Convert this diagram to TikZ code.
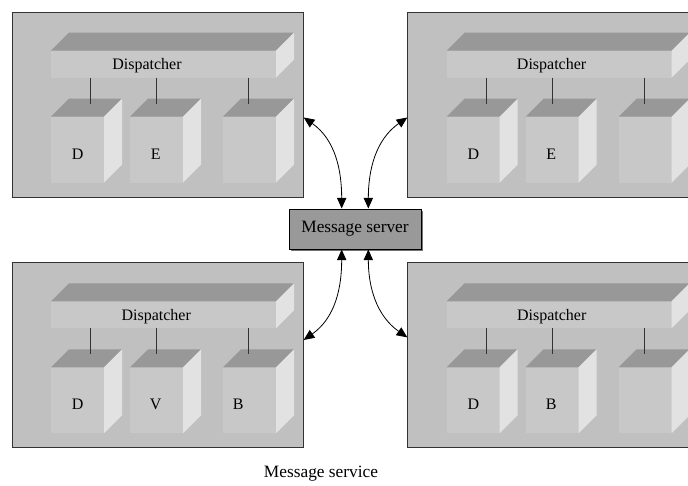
\documentclass[tikz,border=0pt]{standalone}
\usepackage{fontspec}
\setmainfont{Liberation Serif}
\usetikzlibrary{arrows.meta,shadows}

\definecolor{boxgray}{RGB}{192,192,192}
\definecolor{facegray}{RGB}{200,200,200}
\definecolor{topgray}{RGB}{152,152,152}
\definecolor{sidegray}{RGB}{226,226,226}
\definecolor{servergray}{RGB}{153,153,153}

% 3d block, front face from (#1,#2) to (#3,#4)
\newcommand{\slab}[4]{%
  \fill[facegray] (#1,#2) rectangle (#3,#4);
  \fill[topgray] (#1,#2) -- (#1+18,#2-18) -- (#3+18,#2-18) -- (#3,#2) -- cycle;
  \fill[sidegray] (#3,#2) -- (#3+18,#2-18) -- (#3+18,#4-18) -- (#3,#4) -- cycle;
}

% host: name, top-left corner, x of dispatcher text, three cube labels
\newcommand{\host}[6]{%
  \begin{scope}[shift={(#2)}]
    \node[host,anchor=north west] (#1) at (0,0) {};
    \slab{39.3}{39}{264.3}{66}
    \slab{39.3}{105}{92.3}{171}
    \slab{118.3}{105}{171.3}{171}
    \slab{211.3}{105}{264.3}{171}
    \foreach \x in {79,145,237}
      \draw[wire] (\x,66) -- (\x,92);
    \node[lbl] (#1-disp) at (#3,54) {Dispatcher};
    \node[lbl] (#1-c1) at (66,142.3) {#4};
    \node[lbl] (#1-c2) at (144,142.3) {#5};
    \if\relax\detokenize{#6}\relax\else
      \node[lbl] (#1-c3) at (226.6,142.3) {#6};
    \fi
  \end{scope}
}

\begin{document}
\begin{tikzpicture}[x=0.75pt,y=-0.75pt,
    >={Triangle[length=8pt,width=7pt]},
    host/.style={rectangle,draw=black!80,line width=0.75pt,fill=boxgray,
      minimum width=218.25pt,minimum height=138.75pt,inner sep=0pt},
    wire/.style={black!80,line width=0.75pt},
    lbl/.style={inner sep=1pt,font=\fontsize{12}{14}\selectfont},
    server/.style={rectangle,draw=black,line width=0.75pt,fill=servergray,
      minimum width=99pt,minimum height=30pt,
      drop shadow={shadow xshift=1.8pt,shadow yshift=-1.8pt,opacity=1,fill=black!55},
      font=\fontsize{13}{15}\selectfont}]
  \path[use as bounding box,clip] (0,0) rectangle (688,485);

  \host{tl}{11.7,11.7}{135.3}{D}{E}{}
  \host{tr}{407.3,11.7}{144.3}{D}{E}{}
  \host{bl}{11.7,262.3}{144.5}{D}{V}{B}
  \host{br}{407.3,262.3}{144.4}{D}{B}{}

  \node[server] (ms) at (355,229) {Message server};
  \node[font=\fontsize{13}{15}\selectfont] (caption) at (321,474) {Message service};

  \path[<->,line width=0.6pt]
  (ms.123) edge [out=90,in=-35] (tl.-5.5)
  (ms.57) edge [out=90,in=215] (tr.185.5)

  (ms.-123) edge [out=-90,in=35] (bl.6.6)
  (ms.-57) edge [out=-90,in=145] (br.173.4)
  ;
\end{tikzpicture}
\end{document}
